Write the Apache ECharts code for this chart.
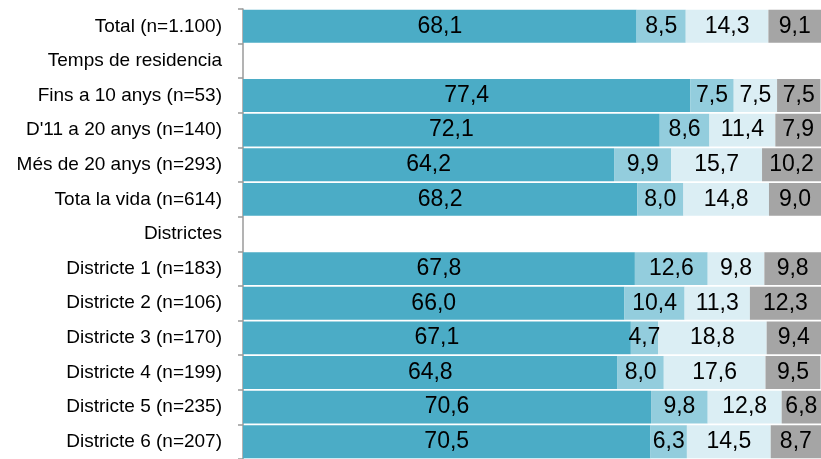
<!DOCTYPE html>
<html>
<head>
<meta charset="utf-8">
<script src="https://cdn.jsdelivr.net/npm/echarts@6/dist/echarts.min.js"></script>
<style>html,body{margin:0;padding:0;background:#fff}#c{width:821px;height:459px}</style>
</head>
<body>
<div id="c"></div>
<script>
const categories = ["Total (n=1.100)", "Temps de residencia", "Fins a 10 anys (n=53)", "D'11 a 20 anys (n=140)", "Més de 20 anys (n=293)", "Tota la vida (n=614)", "Districtes", "Districte 1 (n=183)", "Districte 2 (n=106)", "Districte 3 (n=170)", "Districte 4 (n=199)", "Districte 5 (n=235)", "Districte 6 (n=207)"];
const serie1 = [68.1, null, 77.4, 72.1, 64.2, 68.2, null, 67.8, 66.0, 67.1, 64.8, 70.6, 70.5];
const serie2 = [8.5, null, 7.5, 8.6, 9.9, 8.0, null, 12.6, 10.4, 4.7, 8.0, 9.8, 6.3];
const serie3 = [14.3, null, 7.5, 11.4, 15.7, 14.8, null, 9.8, 11.3, 18.8, 17.6, 12.8, 14.5];
const serie4 = [9.1, null, 7.5, 7.9, 10.2, 9.0, null, 9.8, 12.3, 9.4, 9.5, 6.8, 8.7];
const colors = ['#4BACC6', '#93CDDD', '#DBEEF4', '#A5A5A5'];

const font = "'Liberation Sans', Arial, sans-serif";
function mk(data, i) {
  return {
    type: 'bar', stack: 's', data: data, barCategoryGap: '5%',
    itemStyle: { color: colors[i] },
    label: {
      show: true, position: 'inside', color: '#000', fontFamily: font, fontSize: 23,
      formatter: p => (p.value == null ? '' : p.value.toFixed(1).replace('.', ','))
    },
    silent: true
  };
}
const chart = echarts.init(document.getElementById('c'), null, { renderer: 'canvas' });
chart.setOption({
  animation: false,
  grid: { left: 243, top: 9, width: 580, height: 452 },
  xAxis: { type: 'value', min: 0, max: 100, show: false },
  yAxis: {
    type: 'category', data: categories, inverse: true,
    axisLine: { show: true, lineStyle: { color: '#9A9A9A', width: 1.5 } },
    axisTick: { show: true, length: 5, lineStyle: { color: '#9A9A9A', width: 1.5 } },
    axisLabel: { color: '#000', fontFamily: font, fontSize: 19, margin: 21 }
  },
  series: [mk(serie1, 0), mk(serie2, 1), mk(serie3, 2), mk(serie4, 3)]
});
</script>
</body>
</html>
